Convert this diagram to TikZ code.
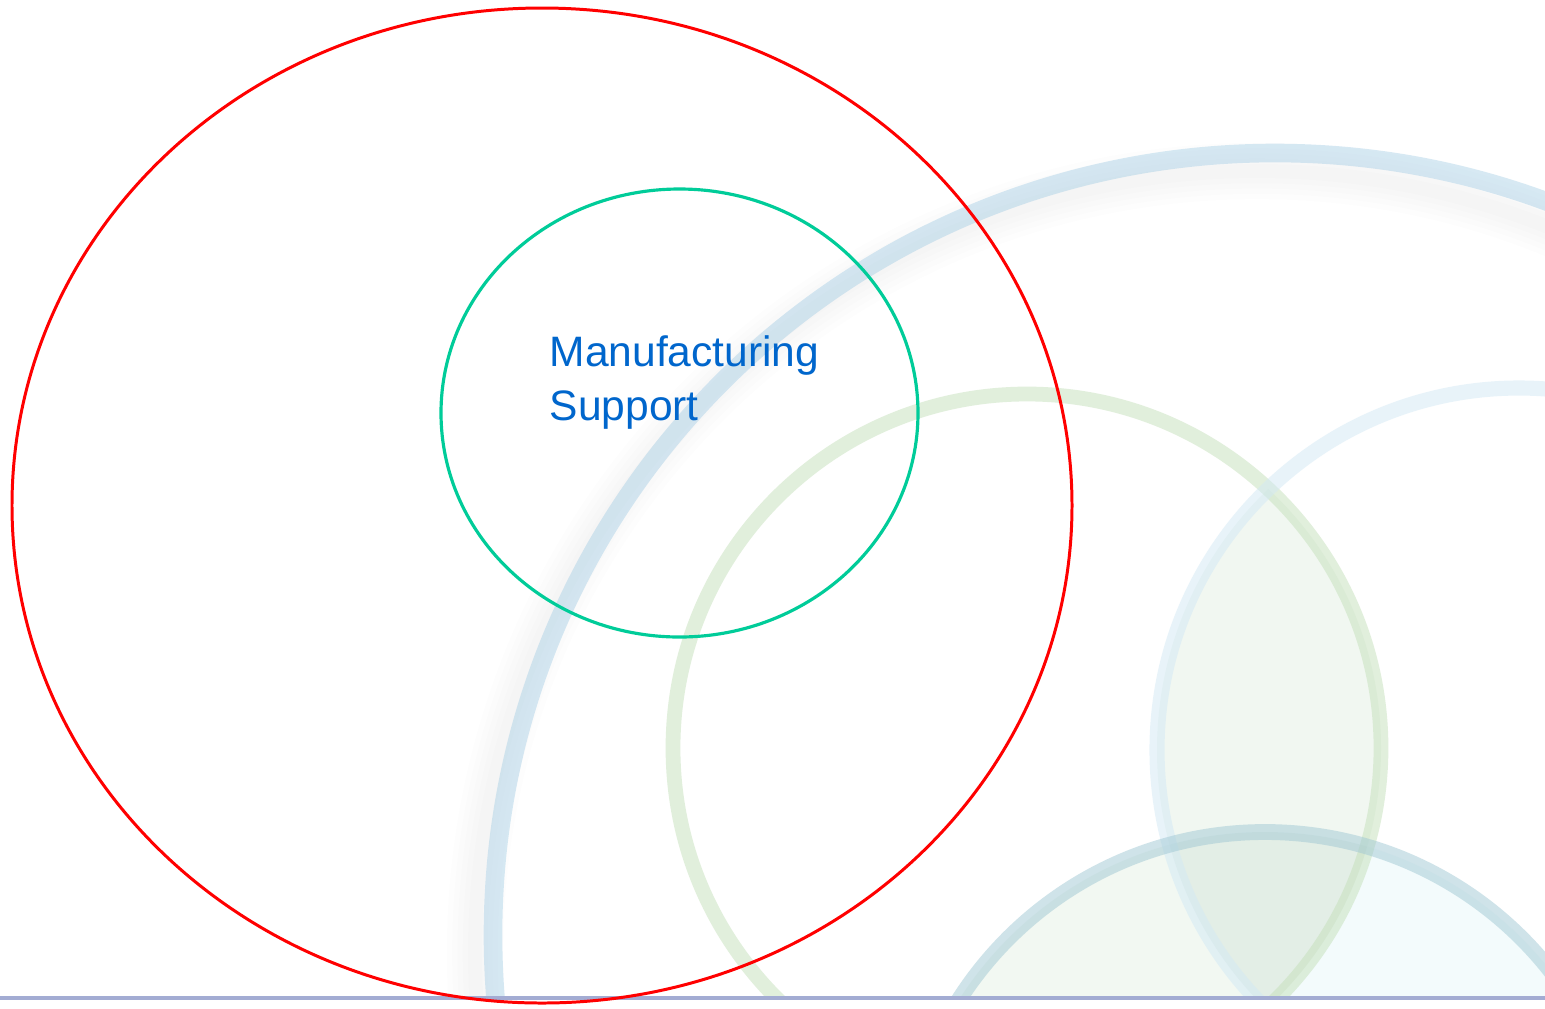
\documentclass[tikz,border=0pt]{standalone}
\usepackage{fontspec}
\newfontfamily\arialf{Liberation Sans}
\definecolor{bigblue}{RGB}{150,198,226}
\definecolor{ringgreen}{RGB}{196,224,186}
\definecolor{ringlight}{RGB}{210,233,245}
\definecolor{ringbottom}{RGB}{160,200,212}
\definecolor{fillGL}{RGB}{241,247,241}
\definecolor{fillGB}{RGB}{242,248,242}
\definecolor{fillLB}{RGB}{243,251,252}
\definecolor{fillGLB}{RGB}{227,238,230}
\definecolor{redline}{RGB}{255,0,0}
\definecolor{greenline}{RGB}{0,204,153}
\definecolor{textblue}{RGB}{0,102,204}
\definecolor{baseline}{RGB}{163,172,211}
\tikzset{
  bigring/.style={draw=bigblue, draw opacity=0.38, line width=5.3pt},
  greenring/.style={draw=ringgreen, draw opacity=0.5, line width=4.2pt},
  lightring/.style={draw=ringlight, draw opacity=0.5, line width=4.3pt},
  bottomring/.style={draw=ringbottom, draw opacity=0.5, line width=4.5pt},
  outerell/.style={draw=redline, line width=0.85pt},
  innerell/.style={draw=greenline, line width=0.9pt},
  labeltext/.style={text=textblue, font=\arialf\fontsize{12.1}{15.1}\selectfont, align=left, inner sep=0pt},
  shadowband/.style={draw=black, draw opacity=0.006},
}
\begin{document}
\begin{tikzpicture}[x=0.01cm,y=-0.01cm]
\useasboundingbox (0,0) rectangle (1545,1008);
\fill[white] (0,0) rectangle (1545,1008);
\begin{scope}
  \clip (0,0) rectangle (1545,997);
  % pairwise tinted intersections
  \begin{scope}
    \clip (1027,748) circle[radius=354];
    \fill[fillGL] (1519,750) circle[radius=362];
    \fill[fillGB] (1265,1195) circle[radius=363];
  \end{scope}
  \begin{scope}
    \clip (1519,750) circle[radius=362];
    \fill[fillLB] (1265,1195) circle[radius=363];
    \clip (1027,748) circle[radius=354];
    \fill[fillGLB] (1265,1195) circle[radius=363];
  \end{scope}
  % soft shadow of the big ring
  \foreach \w in {16,13,10,7,4} {
    \draw[shadowband, line width=\w pt] (1257,953) circle[radius=782];
  }
  % rings
  \draw[bigring] (1275,935) circle[radius=782];
  \draw[greenring] (1027,748) circle[radius=354];
  \draw[lightring] (1519,750) circle[radius=362];
  \draw[bottomring] (1265,1195) circle[radius=363];
\end{scope}
\draw[draw=baseline, line width=1pt] (0,998) -- (1545,998);
% ellipses
\draw[outerell] (542,505.5) ellipse[x radius=530, y radius=497.5];
\draw[innerell] (679.5,413) ellipse[x radius=238.5, y radius=224];
\node[labeltext, anchor=base west] (ms) at (549,420) {Manufacturing\\Support};
\end{tikzpicture}
\end{document}
